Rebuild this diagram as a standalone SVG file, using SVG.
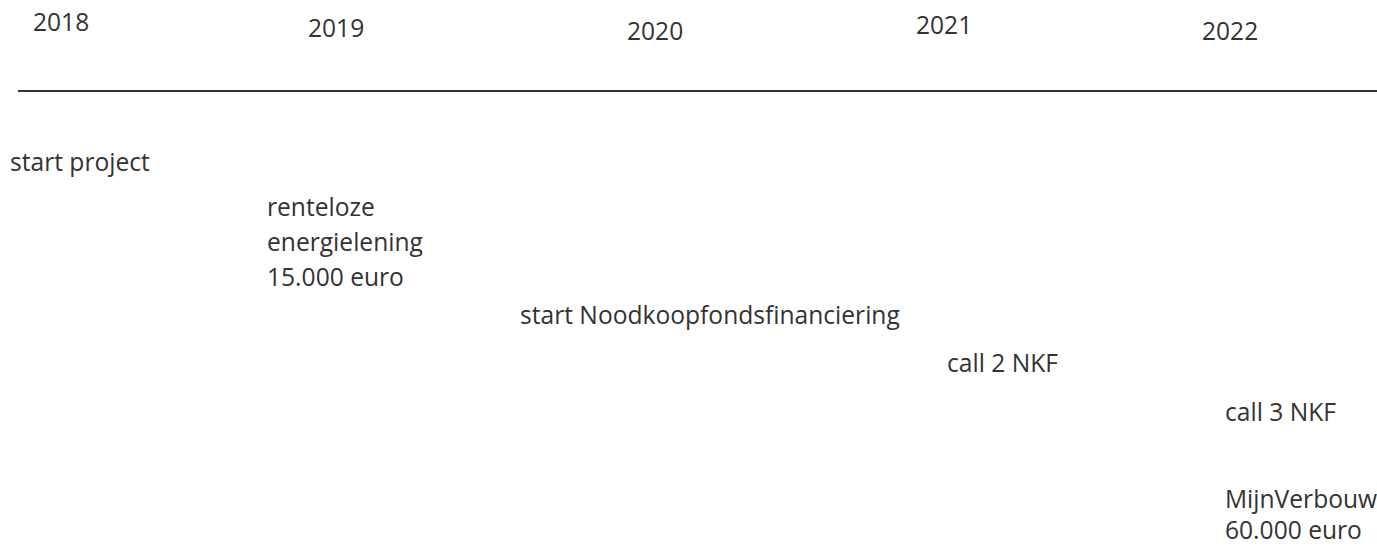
<svg xmlns="http://www.w3.org/2000/svg" width="1377" height="547" viewBox="0 0 1377 547">
<style>
text { font-family: "Open Sans", "Noto Sans", sans-serif; font-size: 24.6px; fill: #333333; }
.axis { stroke: #333333; stroke-width: 2; fill: none; }
</style>
<rect width="1377" height="547" fill="#ffffff"/>
<g id="connectors">
<line class="axis" x1="18" y1="91" x2="1377" y2="91"/>
</g>
<g id="year-2018"><text x="33" y="31">2018</text></g>
<g id="year-2019"><text x="308" y="37">2019</text></g>
<g id="year-2020"><text x="627" y="40">2020</text></g>
<g id="year-2021"><text x="916" y="34">2021</text></g>
<g id="year-2022"><text x="1202" y="40">2022</text></g>
<g id="start-project"><text x="10" y="171">start project</text></g>
<g id="energielening"><text x="267" y="216">renteloze</text><text x="267" y="251">energielening</text><text x="267" y="286">15.000 euro</text></g>
<g id="nkf-start"><text x="520" y="324">start Noodkoopfondsfinanciering</text></g>
<g id="call2"><text x="947" y="372">call 2 NKF</text></g>
<g id="call3"><text x="1225" y="421">call 3 NKF</text></g>
<g id="mijnverbouw"><text x="1225" y="508">MijnVerbouw</text><text x="1225" y="539">60.000 euro</text></g>
</svg>
